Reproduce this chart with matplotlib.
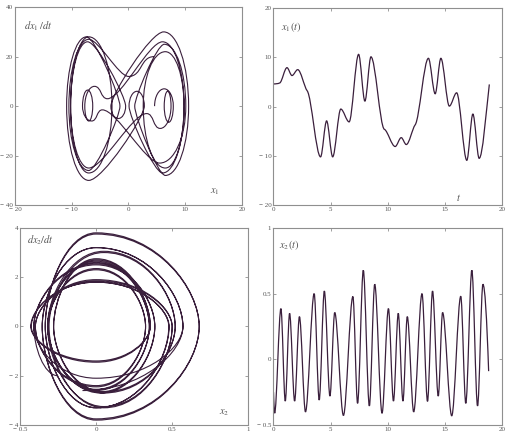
import matplotlib
matplotlib.use("Agg")
import matplotlib.pyplot as plt
from matplotlib.path import Path
from matplotlib.patches import PathPatch
from matplotlib.ticker import FuncFormatter

plt.rcParams["mathtext.fontset"] = "stix"
plt.rcParams["font.family"] = ["Liberation Serif", "DejaVu Serif"]

# x1(t): turning points / shoulders (time, value, slope)
x1_t = [0.0, 0.55, 1.18, 1.62, 2.12, 2.95, 4.12, 4.65, 5.18, 5.89, 6.62, 7.45, 8.00, 8.53,
        9.70, 10.65, 11.18, 11.62, 12.40, 13.56, 14.15, 14.65, 15.39, 16.03, 16.92, 17.45,
        18.00, 18.89]
x1_x = [4.6, 4.8, 7.9, 6.3, 7.5, 3.2, -10.2, -2.9, -10.2, -0.5, -3.1, 10.6, 1.1, 10.1,
        -4.6, -8.1, -6.3, -7.7, -3.7, 9.8, 2.6, 9.8, 0.1, 2.8, -10.9, -1.5, -10.5, 4.5]
x1_slope = [0, 1, 0, 0, 0, -3, 0, 0, 0, 0, 0, 0, 0, 0, -1, 0, 0, 0, 3, 0, 0, 0, 0, 0, 0, 0,
            0, 20]

# x2(t): peaks and troughs
x2_t = [0.0, 0.10, 0.65, 1.03, 1.41, 1.85, 2.27, 2.80, 3.56, 4.00, 4.45, 4.94, 5.36, 6.12,
        6.95, 7.36, 7.86, 8.39, 8.86, 9.50, 10.06, 10.50, 10.92, 11.33, 11.71, 12.27, 13.00,
        13.48, 13.92, 14.42, 14.80, 15.60, 16.39, 16.83, 17.36, 17.86, 18.33, 18.83]
x2_x = [-0.25, -0.41, 0.386, -0.318, 0.35, -0.318, 0.325, -0.40, 0.50, -0.31, 0.52, -0.28,
        0.356, -0.427, 0.478, -0.335, 0.678, -0.355, 0.571, -0.41, 0.386, -0.318, 0.35,
        -0.318, 0.325, -0.40, 0.50, -0.32, 0.52, -0.28, 0.356, -0.43, 0.48, -0.335, 0.678,
        -0.355, 0.571, -0.09]
x2_slope = [-2.5] + [0] * 36 + [-2.5]

# phase portrait x1 vs dx1/dt: turning points (v = 0) and velocity extremes
x1_px = [4.6, 6.3, 7.9, 7.1, 6.3, 6.9, 7.5, 5.6, 3.2, -7.0, -10.2, -7.0, -2.9, -7.0, -10.2,
         -7.2, -0.5, -1.8, -3.1, 6.2, 10.6, 6.5, 1.1, 6.3, 10.1, 5.5, -4.6, -6.5, -8.1, -7.2,
         -6.3, -7.0, -7.7, -6.0, -3.7, 6.0, 9.8, 6.5, 2.6, 6.5, 9.8, 6.0, 0.1, 1.5, 2.8, -7.0,
         -10.9, -7.4, -1.5, -7.0, -10.5, -7.0, 0.0, 4.5]
x1_pv = [0, 7, 0, -6.5, 0, 6, 0, -9, -3, -25, 0, 28, 0, -27, 0, 26, 0, -5, 0, 30, 0, -28, 0,
         25, 0, -23, -1.5, -6, 0, 6.5, 0, -6, 0, 8, 3, 26, 0, -25, 0, 22, 0, -27, 0, 6, 0, -30,
         0, 28, 0, -26, 0, 27, 12, 20]

# phase portrait x2 vs dx2/dt
x2_px = [-0.25, -0.41, 0.0, 0.386, 0.03, -0.318, 0.0, 0.35, 0.0, -0.318, 0.0, 0.325, 0.0,
         -0.40, 0.0, 0.50, 0.05, -0.31, 0.05, 0.52, 0.05, -0.28, 0.0, 0.356, 0.0, -0.427, 0.0,
         0.478, 0.0, -0.335, 0.0, 0.678, 0.0, -0.355, 0.0, 0.571, 0.0, -0.41, 0.0, 0.386,
         0.03, -0.318, 0.0, 0.35, 0.0, -0.318, 0.0, 0.325, 0.0, -0.40, 0.0, 0.50, 0.05,
         -0.32, 0.05, 0.52, 0.05, -0.28, 0.0, 0.356, 0.0, -0.43, 0.0, 0.48, 0.0, -0.335, 0.0,
         0.678, 0.0, -0.355, 0.0, 0.571, -0.09]
x2_pv = [-2.0, 0, 2.5, 0, -2.7, 0, 2.6, 0, -2.6, 0, 2.3, 0, -2.4, 0, 1.85, 0, -3.3, 0, 3.0,
         0, -2.7, 0, 2.7, 0, -1.4, 0, 1.8, 0, -3.3, 0, 3.8, 0, -3.8, 0, 3.2, 0, -2.1, 0, 2.55,
         0, -2.65, 0, 2.65, 0, -2.55, 0, 2.35, 0, -2.45, 0, 1.9, 0, -3.25, 0, 3.05, 0, -2.65,
         0, 2.75, 0, -1.45, 0, 1.8, 0, -3.3, 0, 3.75, 0, -3.75, 0, 3.2, 0, -2.6]

line_color = "#3a1f3c"
spine_color = "#8f8f8f"
tick_color = "#555555"


def hermite_path(t, x, m):
    verts = [(t[0], x[0])]
    codes = [Path.MOVETO]
    for i in range(len(t) - 1):
        h = t[i + 1] - t[i]
        verts += [(t[i] + h / 3, x[i] + m[i] * h / 3),
                  (t[i + 1] - h / 3, x[i + 1] - m[i + 1] * h / 3),
                  (t[i + 1], x[i + 1])]
        codes += [Path.CURVE4] * 3
    return Path(verts, codes)


def phase_path(px, pv, kv=0.5, kh=0.55, far=None, kv_far=0.15, kh_far=0.25):
    # cubic arcs: vertical tangent where v = 0, horizontal tangent at velocity extremes;
    # long swings run more straight (diagonal) between their knots
    verts = [(px[0], pv[0])]
    codes = [Path.MOVETO]
    for i in range(len(px) - 1):
        xa, va, xb, vb = px[i], pv[i], px[i + 1], pv[i + 1]
        if far is not None and abs(xb - xa) > far:
            a, b = kv_far, kh_far
        else:
            a, b = kv, kh
        p1 = (xa, va + a * (vb - va)) if va == 0 else (xa + b * (xb - xa), va)
        p2 = (xb, vb - a * (vb - va)) if vb == 0 else (xb - b * (xb - xa), vb)
        verts += [p1, p2, (xb, vb)]
        codes += [Path.CURVE4] * 3
    return Path(verts, codes)


def fmt(v, pos):
    s = f"{abs(v):g}"
    return s if v >= 0 else "\u2212 " + s


def style(ax, xlim, ylim, xticks, yticks):
    ax.set_xlim(xlim)
    ax.set_ylim(ylim)
    ax.set_xticks(xticks)
    ax.set_yticks(yticks)
    ax.xaxis.set_major_formatter(FuncFormatter(fmt))
    ax.yaxis.set_major_formatter(FuncFormatter(fmt))
    ax.tick_params(direction="in", length=2.5, width=0.6, colors=spine_color,
                   labelcolor=tick_color, labelsize=5, pad=1.5,
                   top=True, right=True)
    for s in ax.spines.values():
        s.set_color(spine_color)
        s.set_linewidth(0.8)


fig = plt.figure(figsize=(5.17, 4.46), dpi=100)
ax1 = fig.add_axes([0.029, 0.540, 0.439, 0.444])
ax2 = fig.add_axes([0.529, 0.540, 0.442, 0.442])
ax3 = fig.add_axes([0.039, 0.047, 0.441, 0.442])
ax4 = fig.add_axes([0.529, 0.047, 0.442, 0.442])

ax1.add_patch(PathPatch(phase_path(x1_px, x1_pv, kv=0.55, kh=0.55, far=5),
                        fill=False, ec=line_color, lw=0.8))
style(ax1, (-20, 20), (-40, 40), [-20, -10, 0, 10, 20], [-40, -20, 0, 20, 40])
ax1.text(0.04, 0.905, r"$dx_1\,/dt$", transform=ax1.transAxes, fontsize=7.5,
         color=tick_color, va="center")
ax1.text(0.86, 0.066, r"$x_1$", transform=ax1.transAxes, fontsize=7.5,
         color=tick_color, va="center")

ax2.add_patch(PathPatch(hermite_path(x1_t, x1_x, x1_slope), fill=False, ec=line_color, lw=0.9))
style(ax2, (0, 20), (-20, 20), [0, 5, 10, 15, 20], [-20, -10, 0, 10, 20])
ax2.text(0.035, 0.905, r"$x_1(t)$", transform=ax2.transAxes, fontsize=7.5,
         color=tick_color, va="center")
ax2.text(0.8, 0.04, r"$t$", transform=ax2.transAxes, fontsize=7.5,
         color=tick_color, va="center")

ax3.add_patch(PathPatch(phase_path(x2_px, x2_pv, kv=0.4, kh=0.6), fill=False,
                        ec=line_color, lw=0.8))
style(ax3, (-0.5, 1), (-4, 4), [-0.5, 0, 0.5, 1], [-4, -2, 0, 2, 4])
ax3.text(0.03, 0.935, r"$dx_2/dt$", transform=ax3.transAxes, fontsize=7.5,
         color=tick_color, va="center")
ax3.text(0.87, 0.06, r"$x_2$", transform=ax3.transAxes, fontsize=7.5,
         color=tick_color, va="center")

ax4.add_patch(PathPatch(hermite_path(x2_t, x2_x, x2_slope), fill=False, ec=line_color, lw=0.9))
style(ax4, (0, 20), (-0.5, 1), [0, 5, 10, 15, 20], [-0.5, 0, 0.5, 1])
ax4.text(0.026, 0.914, r"$x_2(t)$", transform=ax4.transAxes, fontsize=7.5,
         color=tick_color, va="center")

fig.savefig("out.png", dpi=100)
